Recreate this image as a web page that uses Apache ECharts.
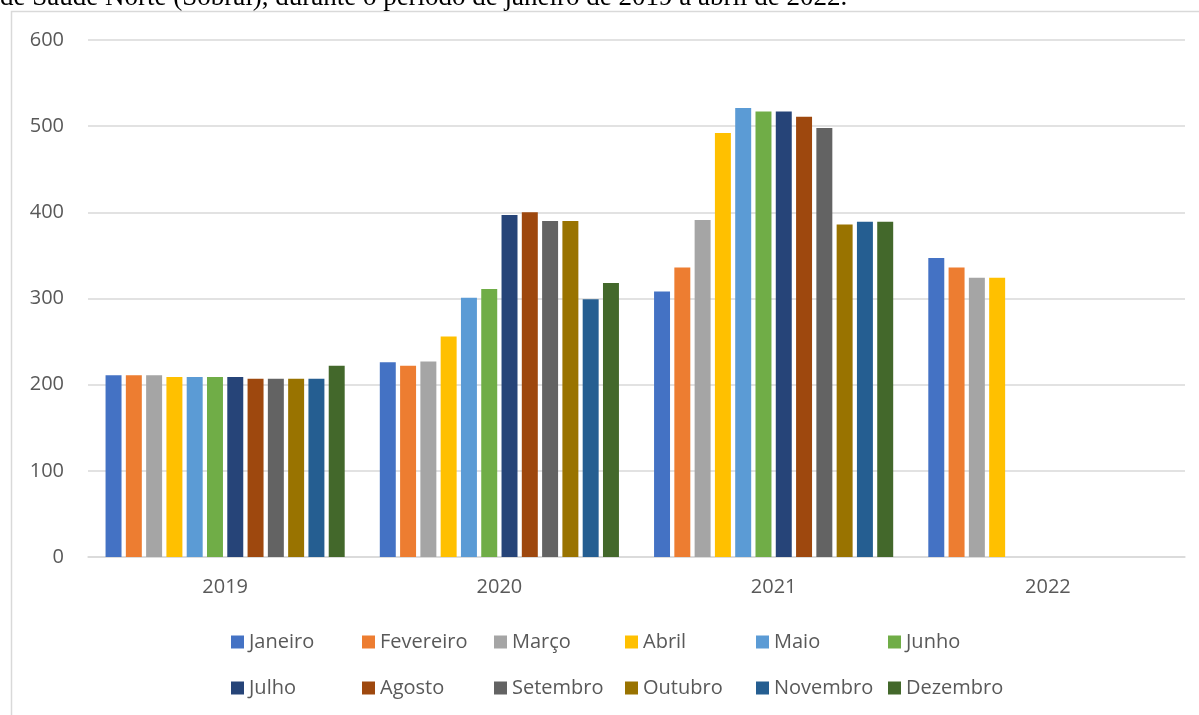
<!DOCTYPE html>
<html>
<head>
<meta charset="utf-8">
<script src="https://cdn.jsdelivr.net/npm/echarts@6/dist/echarts.min.js"></script>
<style>
  html, body { margin: 0; padding: 0; background: #ffffff; }
  #chart { width: 1199px; height: 715px; }
</style>
</head>
<body>
<div id="chart"></div>
<script>
// Years on the category axis
const years = ['2019', '2020', '2021', '2022'];

// Month series names
const months = ['Janeiro', 'Fevereiro', 'Março', 'Abril', 'Maio', 'Junho',
                'Julho', 'Agosto', 'Setembro', 'Outubro', 'Novembro', 'Dezembro'];

// Monthly values per year (null = no data yet)
const v2019 = [211, 211, 211, 209, 209, 209, 209, 207, 207, 207, 207, 222];
const v2020 = [226, 222, 227, 256, 301, 311, 397, 400, 390, 390, 299, 318];
const v2021 = [308, 336, 391, 492, 521, 517, 517, 511, 498, 386, 389, 389];
const v2022 = [347, 336, 324, 324, null, null, null, null, null, null, null, null];

// Value axis ticks
const yTicks = [0, 100, 200, 300, 400, 500, 600];

const monthColors = ['#4472C4', '#ED7D31', '#A5A5A5', '#FFC000', '#5B9BD5', '#70AD47',
                     '#264478', '#9E480E', '#636363', '#997300', '#255E91', '#43682B'];

const caption = 'de Saúde Norte (Sobral), durante o período de janeiro de 2019 a abril de 2022.';

const byYear = [v2019, v2020, v2021, v2022];
const series = months.map((m, i) => ({
  name: m,
  type: 'bar',
  data: byYear.map(arr => arr[i]),
  itemStyle: { color: monthColors[i] },
  barGap: '27%',
  barCategoryGap: '12.8%'
}));

const textColor = '#595959';
const fontFamily = '"Open Sans", "Liberation Sans", sans-serif';

// Legend laid out as a 6-column grid, one legend entry per cell
const legendColX = 231, legendColStep = 131.3;
const legendRowY = [632, 678];
const legends = months.map((m, i) => ({
  data: [m],
  icon: 'rect',
  itemWidth: 13,
  itemHeight: 13,
  itemGap: 0,
  padding: 0,
  left: Math.round(legendColX + (i % 6) * legendColStep),
  top: legendRowY[Math.floor(i / 6)],
  textStyle: { color: textColor, fontSize: 20, fontFamily: fontFamily, padding: [0, 0, 0, 0] }
}));

const chart = echarts.init(document.getElementById('chart'), null, { renderer: 'canvas' });
chart.setOption({
  animation: false,
  backgroundColor: '#ffffff',
  graphic: [
    {
      type: 'rect',
      shape: { x: 11.5, y: 11.5, width: 1300, height: 900 },
      style: { fill: 'none', stroke: '#d9d9d9', lineWidth: 1.5 },
      silent: true
    },
    {
      type: 'text',
      left: 0,
      top: -16,
      style: {
        text: caption,
        fill: '#000000',
        fontSize: 27,
        fontFamily: '"Liberation Serif", "Times New Roman", serif'
      },
      silent: true
    }
  ],
  grid: { left: 88, right: 14, top: 40, bottom: 158, containLabel: false },
  legend: legends,
  xAxis: {
    type: 'category',
    data: years,
    axisLine: { show: true, lineStyle: { color: '#d9d9d9', width: 1.5 } },
    axisTick: { show: false },
    axisLabel: { color: textColor, fontSize: 20, fontFamily: fontFamily, margin: 20 }
  },
  yAxis: {
    type: 'value',
    min: yTicks[0],
    max: yTicks[yTicks.length - 1],
    interval: 100,
    axisLine: { show: false },
    axisTick: { show: false },
    axisLabel: { color: textColor, fontSize: 20, fontFamily: fontFamily, margin: 24 },
    splitLine: { lineStyle: { color: '#d9d9d9', width: 1.5 } }
  },
  series: series
});
</script>
</body>
</html>
